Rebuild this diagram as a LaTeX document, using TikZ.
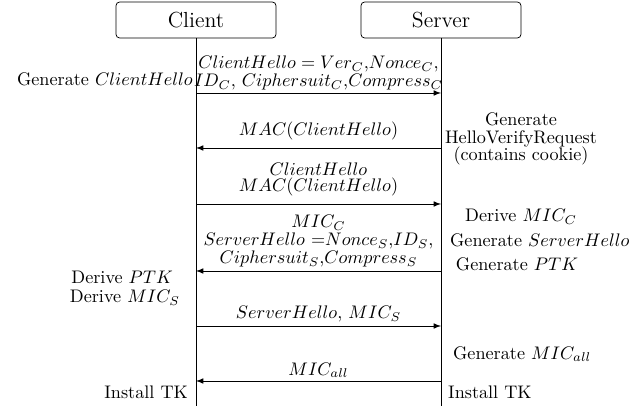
\documentclass[tikz,border=0pt]{standalone}
\usetikzlibrary{positioning}

\newcommand{\tightfont}{\fontsize{10}{9.8}\selectfont\lineskiplimit=-10pt\relax}

\tikzset{
  party/.style={draw, rounded corners=2pt, minimum width=88pt, minimum height=19.8pt, font=\large},
  msg/.style={->, >=latex},
  note/.style={align=center, inner sep=1pt, font=\tightfont},
}

\begin{document}
\begin{tikzpicture}[x=0.55pt,y=-0.55pt]
    \useasboundingbox (0,0) rectangle (629,412);

    % Parties
    \node[party] (client) at (196,20) {Client};
    \node[party] (server) at (441,20) {Server};

    % Lifelines
    \coordinate (cend) at (196,406);
    \coordinate (send) at (441,406);
    \draw (client.south) -- (cend);
    \draw (server.south) -- (send);

    % Message points on the lifelines
    \foreach \n/\y in {1/93, 2/148, 3/204, 4/271, 5/326, 6/381} {
        \coordinate (c\n) at (196,\y);
        \coordinate (s\n) at (441,\y);
    }

    % Messages
    \draw[msg] (c1) -- (s1) node[midway, above=0.5pt, note] {$ClientHello = Ver_C$,$Nonce_C$,\\ $ID_C$, $Ciphersuit_C$,$Compress_C$};
    \draw[msg] (s2) -- (c2) node[midway, above=3pt, note] {$MAC(ClientHello)$};
    \draw[msg] (c3) -- (s3) node[midway, above=3pt, note] {$ClientHello$\\[-0.8pt] $MAC(ClientHello)$};
    \draw[msg] (s4) -- (c4) node[midway, above=1pt, note] {$MIC_C$\\ $ServerHello$ =$Nonce_S$,$ID_S$,\\ $Ciphersuit_S$,$Compress_S$};
    \draw[msg] (c5) -- (s5) node[midway, above=1pt, note] {$ServerHello$, $MIC_S$};
    \draw[msg] (s6) -- (c6) node[midway, above=0.5pt, note] {$MIC_{all}$};

    % Client side actions
    \node[note, anchor=east] (genhello) at (195,79) {Generate $ClientHello$};
    \node[note, anchor=east] (derptk) at (175,277) {Derive $PTK$};
    \node[note, anchor=east] (dermics) at (182,298) {Derive $MIC_S$};
    \node[note, anchor=east] (cinst) at (190,392) {Install TK};

    % Server side actions
    \node[note] (genhvr) at (521,139) {Generate\\ HelloVerifyRequest\\ (contains cookie)};
    \node[note] (dermicc) at (521,217) {Derive $MIC_C$};
    \node[note, anchor=west] (gensh) at (448,240) {Generate $ServerHello$};
    \node[note] (genptk) at (517,264) {Generate $PTK$};
    \node[note, anchor=west] (genmic) at (451,354) {Generate $MIC_{all}$};
    \node[note, anchor=west] (sinst) at (446,392) {Install TK};
\end{tikzpicture}
\end{document}
